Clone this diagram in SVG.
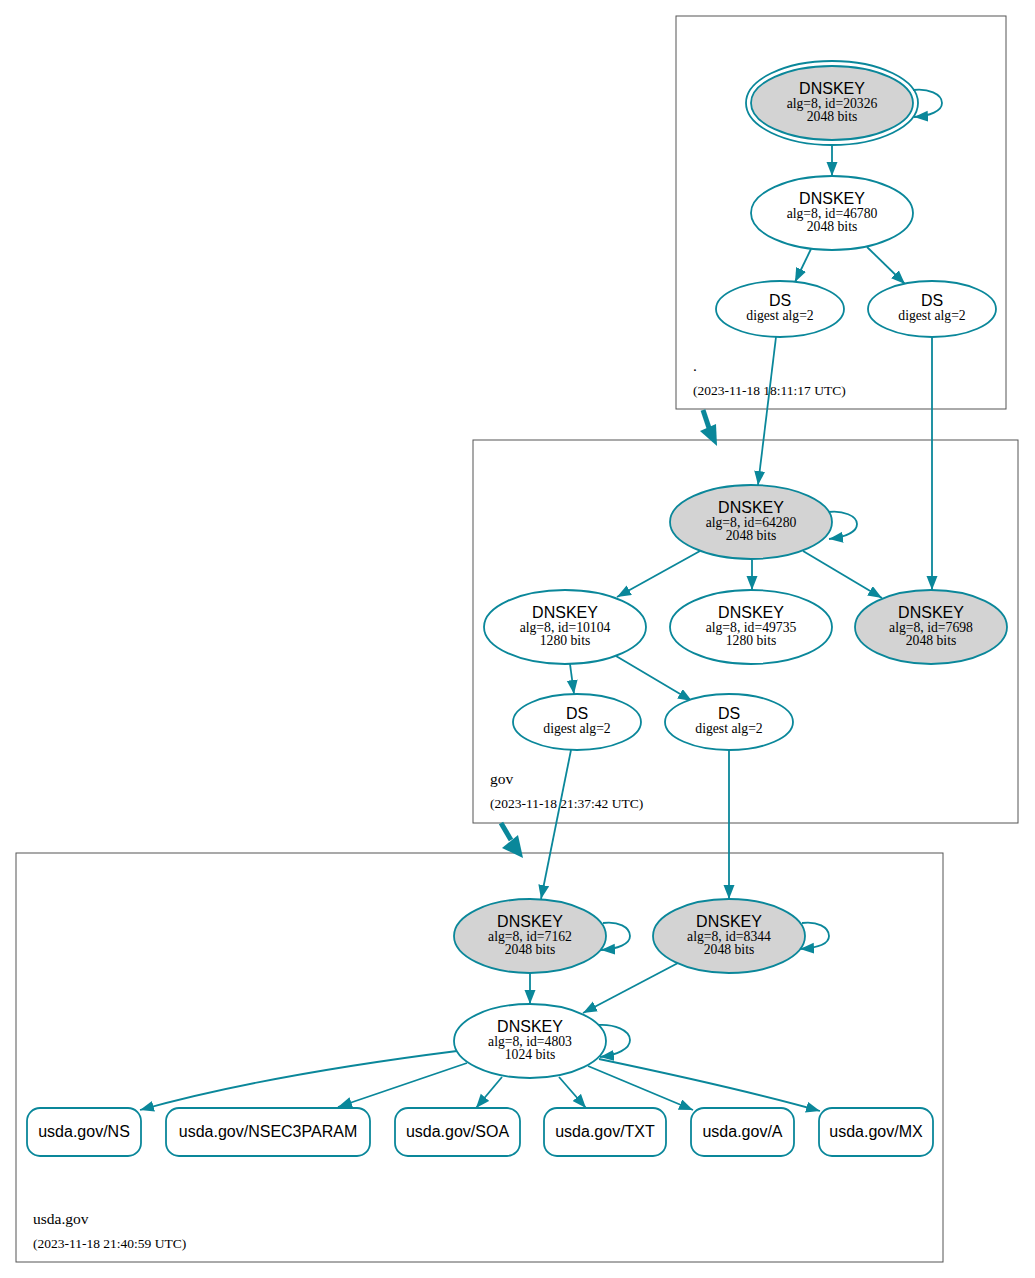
<svg xmlns="http://www.w3.org/2000/svg" width="1035" height="1278" viewBox="0 0 1035 1278">
<style>
.cl{fill:none;stroke:#555;stroke-width:1}
.n{fill:#fff;stroke:#0a879a;stroke-width:1.8}
.g{fill:#d3d3d3;stroke:#0a879a;stroke-width:1.8}
.e{fill:none;stroke:#0a879a;stroke-width:1.8;marker-end:url(#ah)}
.t{font-family:"Liberation Sans",Arial,sans-serif;font-size:16px;fill:#000;text-anchor:middle}
.s{font-family:"Liberation Serif","Times New Roman",serif;font-size:13.7px;fill:#000;text-anchor:middle}
.lb{font-family:"Liberation Serif","Times New Roman",serif;font-size:15.5px;fill:#000}
.ts{font-family:"Liberation Serif","Times New Roman",serif;font-size:13.5px;fill:#000}
.thick{fill:none;stroke:#0a879a;stroke-width:5}
.ahf{fill:#0a879a;stroke:none}
</style>
<defs>
<marker id="ah" markerUnits="userSpaceOnUse" markerWidth="15" markerHeight="12" refX="14" refY="5.5" orient="auto">
<path d="M0,0 L14,5.5 L0,11 z" fill="#0a879a"/>
</marker>
</defs>
<rect width="1035" height="1278" fill="#fff"/>

<g id="clusters">
<g id="cluster-root">
<rect class="cl" x="676" y="16" width="330" height="393"/>
<text class="lb" x="693" y="371">.</text>
<text class="ts" x="693" y="395">(2023-11-18 18:11:17 UTC)</text>
</g>
<g id="cluster-gov">
<rect class="cl" x="473" y="440" width="545" height="383"/>
<text class="lb" x="490" y="784">gov</text>
<text class="ts" x="490" y="808">(2023-11-18 21:37:42 UTC)</text>
</g>
<g id="cluster-usda">
<rect class="cl" x="16" y="853" width="927" height="409"/>
<text class="lb" x="33" y="1224">usda.gov</text>
<text class="ts" x="33" y="1248">(2023-11-18 21:40:59 UTC)</text>
</g>
</g>

<g id="edges">
<path class="e" d="M913,90 C928,88 942,94 942,103 C942,111 930,116 914,117"/>
<path class="e" d="M832,145 L832,176"/>
<path class="e" d="M811,249 L795,282"/>
<path class="e" d="M867,247 L905,284"/>
<path class="e" d="M776,337 L758,485"/>
<path class="e" d="M932,337 L932,590"/>
<path class="thick" d="M703,410 L709,428"/>
<polygon class="ahf" points="717,446 700,431 716,424"/>
<path class="e" d="M828,512 C843,510 857,516 857,524 C857,532 845,537 829,539"/>
<path class="e" d="M700,551 L617,597"/>
<path class="e" d="M752,560 L752,590"/>
<path class="e" d="M803,551 L882,598"/>
<path class="e" d="M570,664 L574,694"/>
<path class="e" d="M616,656 L692,701"/>
<path class="e" d="M571,750 L541,899"/>
<path class="e" d="M729,750 L729,899"/>
<path class="thick" d="M501,823 L511,840"/>
<polygon class="ahf" points="523,858 502,848 518,835"/>
<path class="e" d="M603,923 C618,921 630,927 630,936 C630,944 618,949 601,950"/>
<path class="e" d="M802,923 C817,921 829,927 829,936 C829,944 817,948 800,949"/>
<path class="e" d="M598,1025 C614,1024 630,1030 630,1040 C630,1049 617,1055 600,1057"/>
<path class="e" d="M530,973 L530,1004"/>
<path class="e" d="M678,963 L583,1013"/>
<path class="e" d="M457,1051 C370,1062 240,1082 140,1110"/>
<path class="e" d="M467,1063 L338,1107"/>
<path class="e" d="M502,1077 L476,1108"/>
<path class="e" d="M559,1077 L586,1108"/>
<path class="e" d="M588,1066 L693,1110"/>
<path class="e" d="M599,1059 C680,1076 760,1094 820,1111"/>
</g>

<g id="nodes">
<g id="root-ksk-20326">
<ellipse class="g" cx="832" cy="103" rx="86" ry="42" style="fill:none"/>
<ellipse class="g" cx="832" cy="103" rx="81" ry="37"/>
<text class="t" x="832" y="94">DNSKEY</text>
<text class="s" x="832" y="108">alg=8, id=20326</text>
<text class="s" x="832" y="120.5">2048 bits</text>
</g>
<g id="root-zsk-46780">
<ellipse class="n" cx="832" cy="213" rx="81" ry="37"/>
<text class="t" x="832" y="204">DNSKEY</text>
<text class="s" x="832" y="218">alg=8, id=46780</text>
<text class="s" x="832" y="230.5">2048 bits</text>
</g>
<g id="root-ds-1">
<ellipse class="n" cx="780" cy="309" rx="64" ry="28"/>
<text class="t" x="780" y="306">DS</text>
<text class="s" x="780" y="320">digest alg=2</text>
</g>
<g id="root-ds-2">
<ellipse class="n" cx="932" cy="309" rx="64" ry="28"/>
<text class="t" x="932" y="306">DS</text>
<text class="s" x="932" y="320">digest alg=2</text>
</g>

<g id="gov-ksk-64280">
<ellipse class="g" cx="751" cy="522" rx="81" ry="37"/>
<text class="t" x="751" y="513">DNSKEY</text>
<text class="s" x="751" y="527">alg=8, id=64280</text>
<text class="s" x="751" y="539.5">2048 bits</text>
</g>
<g id="gov-zsk-10104">
<ellipse class="n" cx="565" cy="627" rx="81" ry="37"/>
<text class="t" x="565" y="618">DNSKEY</text>
<text class="s" x="565" y="632">alg=8, id=10104</text>
<text class="s" x="565" y="644.5">1280 bits</text>
</g>
<g id="gov-zsk-49735">
<ellipse class="n" cx="751" cy="627" rx="81" ry="37"/>
<text class="t" x="751" y="618">DNSKEY</text>
<text class="s" x="751" y="632">alg=8, id=49735</text>
<text class="s" x="751" y="644.5">1280 bits</text>
</g>
<g id="gov-ksk-7698">
<ellipse class="g" cx="931" cy="627" rx="76" ry="37"/>
<text class="t" x="931" y="618">DNSKEY</text>
<text class="s" x="931" y="632">alg=8, id=7698</text>
<text class="s" x="931" y="644.5">2048 bits</text>
</g>
<g id="gov-ds-1">
<ellipse class="n" cx="577" cy="722" rx="64" ry="28"/>
<text class="t" x="577" y="719">DS</text>
<text class="s" x="577" y="733">digest alg=2</text>
</g>
<g id="gov-ds-2">
<ellipse class="n" cx="729" cy="722" rx="64" ry="28"/>
<text class="t" x="729" y="719">DS</text>
<text class="s" x="729" y="733">digest alg=2</text>
</g>

<g id="usda-ksk-7162">
<ellipse class="g" cx="530" cy="936" rx="76" ry="37"/>
<text class="t" x="530" y="927">DNSKEY</text>
<text class="s" x="530" y="941">alg=8, id=7162</text>
<text class="s" x="530" y="953.5">2048 bits</text>
</g>
<g id="usda-ksk-8344">
<ellipse class="g" cx="729" cy="936" rx="76" ry="37"/>
<text class="t" x="729" y="927">DNSKEY</text>
<text class="s" x="729" y="941">alg=8, id=8344</text>
<text class="s" x="729" y="953.5">2048 bits</text>
</g>
<g id="usda-zsk-4803">
<ellipse class="n" cx="530" cy="1041" rx="76" ry="37"/>
<text class="t" x="530" y="1032">DNSKEY</text>
<text class="s" x="530" y="1046">alg=8, id=4803</text>
<text class="s" x="530" y="1058.5">1024 bits</text>
</g>
<g id="usda-ns">
<rect class="n" x="27" y="1108" width="114" height="48" rx="13"/>
<text class="t" x="84" y="1137">usda.gov/NS</text>
</g>
<g id="usda-nsec3param">
<rect class="n" x="166" y="1108" width="204" height="48" rx="13"/>
<text class="t" x="268" y="1137">usda.gov/NSEC3PARAM</text>
</g>
<g id="usda-soa">
<rect class="n" x="395" y="1108" width="125" height="48" rx="13"/>
<text class="t" x="457.5" y="1137">usda.gov/SOA</text>
</g>
<g id="usda-txt">
<rect class="n" x="544" y="1108" width="122" height="48" rx="13"/>
<text class="t" x="605" y="1137">usda.gov/TXT</text>
</g>
<g id="usda-a">
<rect class="n" x="691" y="1108" width="103" height="48" rx="13"/>
<text class="t" x="742.5" y="1137">usda.gov/A</text>
</g>
<g id="usda-mx">
<rect class="n" x="819" y="1108" width="114" height="48" rx="13"/>
<text class="t" x="876" y="1137">usda.gov/MX</text>
</g>
</g>
</svg>
